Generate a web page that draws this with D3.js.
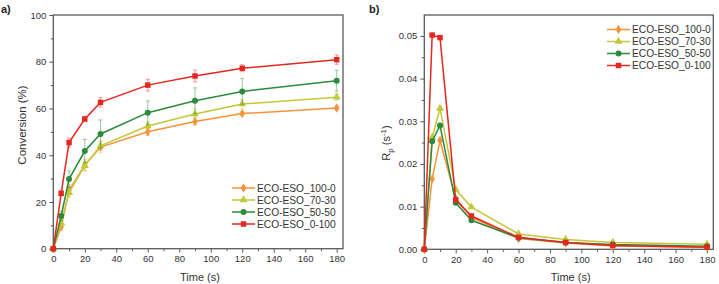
<!DOCTYPE html>
<html>
<head>
<meta charset="utf-8">
<script src="https://cdn.jsdelivr.net/npm/d3@7"></script>
<style>
  body { margin: 0; background: #fff; }
  text { font-family: "Liberation Sans", Arial, sans-serif; fill: #333; }
</style>
</head>
<body>
<svg id="fig" width="719" height="284"></svg>
<script>
// data
var times = [0, 5, 10, 20, 30, 60, 90, 120, 180];
var seriesNames = ["ECO-ESO_100-0", "ECO-ESO_70-30", "ECO-ESO_50-50", "ECO-ESO_0-100"];
var seriesColors = ["#f7923a", "#c3c73a", "#2b8a3c", "#e5281f"];
var seriesShapes = ["diamond", "triangle", "circle", "square"];

// conversion (%) and error bars
var conv100_0 = [0, 9.4, 25, 35.8, 43.5, 50, 54.4, 57.8, 60.2];
var conv70_30 = [0, 11, 24, 35.5, 44, 52.5, 57.6, 61.9, 64.8];
var conv50_50 = [0, 14, 29.8, 41.8, 49.1, 58.2, 63.3, 67.3, 71.9];
var conv0_100 = [0, 23.7, 45.4, 55.5, 62.6, 70, 73.9, 77.2, 80.9];
var err100_0 = [0, 1.5, 2.5, 2.5, 2.5, 1.5, 1.5, 1, 1];
var err70_30 = [0, 2, 2, 2, 2, 2, 2.5, 2, 1.5];
var err50_50 = [0, 2, 3.5, 5, 6, 5, 5.5, 5.5, 4.5];
var err0_100 = [0, 1, 2, 1, 2, 2.5, 2.5, 1.5, 2];

// rate of polymerisation Rp (1/s)
var rp100_0 = [0, 0.0165, 0.0255, 0.0119, 0.0075, 0.0025, 0.0015, 0.0008, 0.0005];
var rp70_30 = [0, 0.0262, 0.033, 0.014, 0.0099, 0.0036, 0.0023, 0.0016, 0.0012];
var rp50_50 = [0, 0.0253, 0.029, 0.0109, 0.0068, 0.0027, 0.0016, 0.0011, 0.0007];
var rp0_100 = [0, 0.0502, 0.0496, 0.0116, 0.0078, 0.0028, 0.0016, 0.0009, 0.0005];

var convAll = [conv100_0, conv70_30, conv50_50, conv0_100];
var errAll = [err100_0, err70_30, err50_50, err0_100];
var rpAll = [rp100_0, rp70_30, rp50_50, rp0_100];

var svg = d3.select("#fig");
var frameColor = "#5a5a5a";

var symbolTypes = {
  diamond: d3.symbolDiamond, triangle: d3.symbolTriangle,
  circle: d3.symbolCircle, square: d3.symbolSquare
};
var symbolSizes = { diamond: 26, triangle: 28, circle: 28, square: 30 };

function drawMarker(g, shape, x, y, color) {
  g.append("path")
    .attr("d", d3.symbol().type(symbolTypes[shape]).size(symbolSizes[shape])())
    .attr("transform", "translate(" + x + "," + y + ")")
    .attr("fill", color);
}

// draws one panel; box = [left, top, right, bottom]
function panel(box, yDomain, yMajor, yMinor, yFmt, values, errors, legendPos, label) {
  var x = d3.scaleLinear().domain([0, 184]).range([box[0], box[2]]);
  var y = d3.scaleLinear().domain(yDomain).range([box[3], box[1]]);
  var g = svg.append("g");

  // minor ticks
  var xMinor = d3.range(10, 184, 20);
  g.append("g").attr("transform", "translate(0," + box[3] + ")")
    .call(d3.axisBottom(x).tickValues(xMinor).tickSize(2.5).tickFormat(""))
    .call(function(a) { a.select(".domain").remove(); a.selectAll("line").attr("stroke", frameColor); });
  g.append("g").attr("transform", "translate(" + box[0] + ",0)")
    .call(d3.axisLeft(y).tickValues(yMinor).tickSize(2.5).tickFormat(""))
    .call(function(a) { a.select(".domain").remove(); a.selectAll("line").attr("stroke", frameColor); });

  // major ticks
  var xa = g.append("g").attr("transform", "translate(0," + box[3] + ")")
    .call(d3.axisBottom(x).tickValues(d3.range(0, 181, 20)).tickSize(4).tickPadding(3));
  var ya = g.append("g").attr("transform", "translate(" + box[0] + ",0)")
    .call(d3.axisLeft(y).tickValues(yMajor).tickSize(4).tickPadding(3).tickFormat(yFmt));
  [xa, ya].forEach(function(a) {
    a.select(".domain").remove();
    a.selectAll("line").attr("stroke", frameColor);
    a.selectAll("text").attr("font-size", 9.5).style("fill", "#333")
      .attr("font-family", "Liberation Sans, Arial, sans-serif");
  });

  // frame
  g.append("rect")
    .attr("x", box[0]).attr("y", box[1])
    .attr("width", box[2] - box[0]).attr("height", box[3] - box[1])
    .attr("fill", "none").attr("stroke", frameColor).attr("stroke-width", 1.3);

  var line = d3.line().x(function(d, i) { return x(times[i]); }).y(function(d) { return y(d); });

  values.forEach(function(vals, s) {
    var col = seriesColors[s];
    if (errors) {
      var eg = g.append("g").attr("stroke", col).attr("stroke-width", 0.8).attr("opacity", 0.6);
      vals.forEach(function(v, i) {
        var e = errors[s][i];
        if (!e) return;
        var cx = x(times[i]);
        eg.append("line").attr("x1", cx).attr("x2", cx).attr("y1", y(v - e)).attr("y2", y(v + e));
        eg.append("line").attr("x1", cx - 2).attr("x2", cx + 2).attr("y1", y(v - e)).attr("y2", y(v - e));
        eg.append("line").attr("x1", cx - 2).attr("x2", cx + 2).attr("y1", y(v + e)).attr("y2", y(v + e));
      });
    }
    g.append("path").datum(vals).attr("d", line)
      .attr("fill", "none").attr("stroke", col).attr("stroke-width", 1.5);
    vals.forEach(function(v, i) {
      drawMarker(g, seriesShapes[s], x(times[i]), y(v), col);
    });
  });

  // legend
  seriesNames.forEach(function(name, s) {
    var ly = legendPos[1] + s * 12;
    g.append("line").attr("x1", legendPos[0]).attr("x2", legendPos[0] + 23)
      .attr("y1", ly).attr("y2", ly).attr("stroke", seriesColors[s]).attr("stroke-width", 1.5);
    drawMarker(g, seriesShapes[s], legendPos[0] + 11.5, ly, seriesColors[s]);
    g.append("text").attr("x", legendPos[0] + 25).attr("y", ly + 3.7)
      .attr("font-size", 10.2).text(name);
  });

  // panel label
  svg.append("text").attr("x", label[1]).attr("y", 13)
    .attr("font-size", 11).attr("font-weight", "bold").style("fill", "#222").text(label[0]);

  // x title
  svg.append("text").attr("x", (x(0) + x(180)) / 2 + 5).attr("y", 281)
    .attr("text-anchor", "middle").attr("font-size", 11).text("Time (s)");
}

panel([53.3, 15, 343, 248.7], [0, 100], d3.range(0, 101, 20), d3.range(10, 100, 20),
  d3.format("d"), convAll, errAll, [232, 188], ["a)", 1]);

panel([424.3, 15, 713.3, 249.3], [0, 0.0549], d3.range(0, 0.0501, 0.01), d3.range(0.005, 0.0549, 0.01),
  d3.format(".2f"), rpAll, null, [607, 29.5], ["b)", 369]);

// y titles
svg.append("text").attr("transform", "translate(26,125) rotate(-90)")
  .attr("text-anchor", "middle").attr("font-size", 11.5).text("Conversion (%)");
var rp = svg.append("text").attr("transform", "translate(390,143) rotate(-90)")
  .attr("text-anchor", "middle").attr("font-size", 11);
rp.append("tspan").text("R");
rp.append("tspan").attr("font-size", 8).attr("dy", 3).text("p");
rp.append("tspan").attr("dy", -3).text(" (s");
rp.append("tspan").attr("font-size", 8).attr("dy", -4).text("-1");
rp.append("tspan").attr("dy", 4).text(")");
</script>
</body>
</html>
